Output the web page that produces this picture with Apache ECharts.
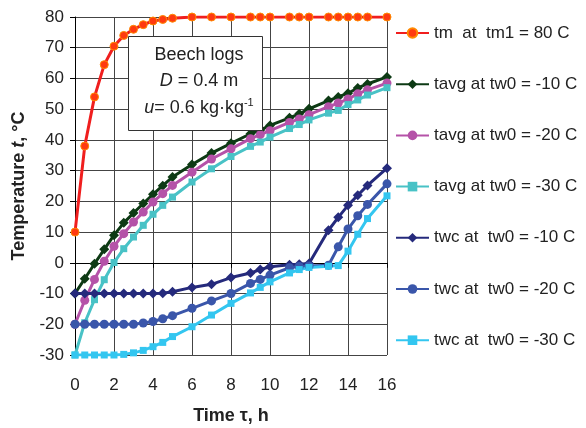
<!DOCTYPE html>
<html>
<head>
<meta charset="utf-8">
<script src="https://cdn.jsdelivr.net/npm/echarts@6/dist/echarts.min.js"></script>
<style>
html,body{margin:0;padding:0;background:#fff;}
#chart{width:586px;height:428px;}
</style>
</head>
<body>
<div id="chart"></div>
<script>
var timeH = [0,0.5,1,1.5,2,2.5,3,3.5,4,4.5,5,6,7,8,9,9.5,10,11,11.5,12,13,13.5,14,14.5,15,16];
var tm = [10,38,54,64.5,70.5,74,76,77.5,78.7,79.2,79.6,80,80,80,80,80,80,80,80,80,80,80,80,80,80,80];
var tavgM10 = [-10,-5.2,-0.3,4.4,9,13,16.2,19.3,22.3,25.1,27.9,32,35.7,38.9,42,43.2,44.7,47.2,48.5,50.1,52.8,54,55.2,56.9,58.2,60.5];
var tavgM20 = [-20,-12.2,-5.4,0.5,5.4,9.5,13.3,16.5,19.8,22.5,25.2,29.5,33.8,37.1,40.4,41.7,43,45.7,46.8,48.2,50.8,52,53.3,55,56.3,58.5];
var tavgM30 = [-30,-19.5,-12,-5.5,0.1,4.6,8.4,12.2,15.8,18.7,21.4,26.3,30.6,34.6,37.9,39.3,40.9,43.7,45,46.5,48.7,49.6,51.5,53,54.6,57];
var twcM10 = [-10,-10,-10,-10,-10,-10,-10,-10,-10,-9.9,-9.4,-8,-7,-4.8,-3.3,-2.2,-1.3,-0.6,-0.5,-0.2,10.6,14.8,18.7,22,25.2,30.8];
var twcM20 = [-20,-20,-20,-20,-20,-20,-20,-19.6,-19.1,-18.2,-17.2,-14.8,-12.4,-10,-6.7,-5.4,-4,-1.6,-1.2,-1,-0.8,5.2,11,15.3,19,25.7];
var twcM30 = [-30,-30,-30,-30,-30,-29.8,-29.3,-28.5,-27.3,-25.9,-24,-20.8,-17,-13.2,-9.8,-8,-6.2,-3.3,-2.2,-1.5,-1.1,-0.9,3.8,9.3,14.4,21.8];
var xTicks = [0,2,4,6,8,10,12,14,16];
var yTicks = [-30,-20,-10,0,10,20,30,40,50,60,70,80];
var names = ['tm  at  tm1 = 80 C','tavg at tw0 = -10 C','tavg at tw0 = -20 C','tavg at tw0 = -30 C','twc at  tw0 = -10 C','twc at  tw0 = -20 C','twc at  tw0 = -30 C'];

function pairs(arr){ return timeH.map(function(t,i){ return [t, arr[i]]; }); }

var FONT = 'Liberation Sans, Arial, sans-serif';
function mk(name, arr, color, symbol, size, fill, border){
  return {
    name: name, type: 'line', data: pairs(arr),
    symbol: symbol, symbolSize: size,
    lineStyle: {color: color, width: 3},
    itemStyle: {color: fill || color, borderColor: border || fill || color, borderWidth: border ? 1 : 0},
    emphasis: {disabled: true},
    animation: false
  };
}

var chart = echarts.init(document.getElementById('chart'));
chart.setOption({
  backgroundColor: '#fff',
  animation: false,
  grid: {left: 75, right: 199, top: 17, bottom: 73, containLabel: false, outerBoundsMode: 'none'},
  xAxis: {
    type: 'value', min: 0, max: 16, interval: 2,
    name: 'Time τ, h', nameLocation: 'middle', nameGap: 52,
    nameTextStyle: {fontSize: 18, fontWeight: 'bold', color: '#222', fontFamily: FONT},
    axisLine: {lineStyle: {color: '#000', width: 1}},
    axisTick: {show: true, inside: false, length: 5, lineStyle: {color: '#000'}},
    axisLabel: {fontSize: 17, color: '#222', margin: 22, fontFamily: FONT,
      formatter: function(v){ return xTicks.indexOf(v) >= 0 ? String(v) : ''; }},
    splitLine: {show: true, lineStyle: {color: '#444', width: 1}}
  },
  yAxis: {
    type: 'value', min: -30, max: 80, interval: 10,
    name: 'Temperature {i|t}, °C', nameLocation: 'middle', nameGap: 47, nameRotate: 90,
    nameTextStyle: {fontSize: 18, fontWeight: 'bold', color: '#222', fontFamily: FONT,
      rich: {i: {fontSize: 18, fontWeight: 'bold', fontStyle: 'italic', color: '#222', fontFamily: FONT}}},
    axisLine: {show: true, lineStyle: {color: '#000', width: 1}},
    axisTick: {show: true, inside: false, length: 5, lineStyle: {color: '#000'}},
    axisLabel: {fontSize: 17, color: '#222', margin: 11, fontFamily: FONT,
      formatter: function(v){ return yTicks.indexOf(v) >= 0 ? String(v) : ''; }},
    splitLine: {show: true, lineStyle: {color: '#444', width: 1}}
  },
  legend: {
    orient: 'vertical', left: 395, top: 23, padding: 0,
    itemWidth: 33, itemHeight: 12, itemGap: 31.2,
    textStyle: {fontSize: 17, color: '#222', fontFamily: FONT, lineHeight: 20},
    data: names
  },
  graphic: [
    {type: 'rect', left: 128, top: 36, z: 100,
     shape: {width: 134, height: 94},
     style: {fill: '#fff', stroke: '#333', lineWidth: 1}},
    {type: 'text', x: 199, y: 55, z: 101,
     style: {text: 'Beech logs', fontSize: 18, fontFamily: FONT, fill: '#222', align: 'center', verticalAlign: 'middle'}},
    {type: 'text', x: 199, y: 81, z: 101,
     style: {text: '{i|D} = 0.4 m', fontSize: 18, fontFamily: FONT, fill: '#222', align: 'center', verticalAlign: 'middle',
       rich: {i: {fontSize: 18, fontStyle: 'italic', fontFamily: FONT, fill: '#222'}}}},
    {type: 'text', x: 199, y: 108, z: 101,
     style: {text: '{i|u}= 0.6 kg·kg{s|-1}', fontSize: 18, fontFamily: FONT, fill: '#222', align: 'center', verticalAlign: 'middle',
       rich: {i: {fontSize: 18, fontStyle: 'italic', fontFamily: FONT, fill: '#222', lineHeight: 22},
              s: {fontSize: 11, fontFamily: FONT, fill: '#222', verticalAlign: 'top', lineHeight: 22}}}}
  ],
  series: [
    mk(names[0], tm, '#F01E1E', 'circle', 8, '#FF3A10', '#FF8A00'),
    mk(names[1], tavgM10, '#0D3A14', 'diamond', 10),
    mk(names[2], tavgM20, '#B552A8', 'circle', 9),
    mk(names[3], tavgM30, '#48C2C6', 'rect', 7),
    mk(names[4], twcM10, '#252A7C', 'diamond', 10),
    mk(names[5], twcM20, '#3A56AA', 'circle', 9),
    mk(names[6], twcM30, '#33C6F0', 'rect', 7)
  ]
});
</script>
</body>
</html>
